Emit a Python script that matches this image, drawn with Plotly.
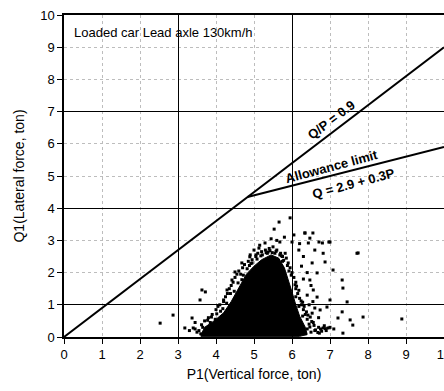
import plotly.graph_objects as go

# ---- data ----
x_ticks = [0, 1, 2, 3, 4, 5, 6, 7, 8, 9, 10]
y_ticks = [0, 1, 2, 3, 4, 5, 6, 7, 8, 9, 10]
major_x = [3, 6]
major_y = [1, 4, 7]

qp_line_p = [0, 10]
qp_line_q = [0, 9]

limit_p = [4.83, 10]
limit_q = [2.9 + 0.3 * 4.83, 2.9 + 0.3 * 10]

# dense core of the measured cloud (outline)
core_p = [3.60, 3.70, 3.95, 4.20, 4.40, 4.60, 4.80, 5.00, 5.20, 5.45, 5.65, 5.80, 5.90, 6.00, 6.10, 6.20, 6.35, 6.40, 6.20, 3.60]
core_q = [0.03, 0.30, 0.50, 0.75, 1.10, 1.55, 1.95, 2.20, 2.40, 2.55, 2.45, 2.15, 1.80, 1.40, 1.00, 0.65, 0.30, 0.08, 0.02, 0.02]

# scattered measured points around the core
pts_p = [6.34, 6.55, 7.00, 6.82, 6.87, 7.08, 7.32, 7.34, 7.74, 7.00, 7.45, 7.32, 7.21, 7.53, 7.60, 7.34,
         7.87, 8.89, 6.95, 6.82, 6.75, 6.47, 6.74, 6.70, 6.53, 6.56, 6.66, 6.53, 6.60, 6.43, 6.80, 6.47,
         6.66, 6.92,
         2.53, 2.87, 3.18, 3.37, 3.45, 3.58, 3.63, 3.72, 3.45, 3.40,
         5.95, 5.66, 5.53, 5.29, 5.68, 6.00, 6.05, 6.34, 6.47, 6.71, 6.97, 7.71, 4.89, 4.68, 4.50, 4.42,
         4.29, 4.20, 5.13, 5.37, 5.82, 6.18,
         3.60, 3.55, 3.65, 3.70, 3.80, 3.90, 3.85, 4.00, 4.05, 4.10, 4.20, 4.25, 4.30, 4.35, 4.40, 4.45,
         4.50, 4.55, 4.60, 4.70, 4.75, 4.85, 4.95, 5.05, 5.10, 5.20, 5.30, 5.40, 5.50, 5.60, 5.70, 5.75,
         5.85, 5.90, 5.95, 6.00, 6.05, 6.10, 6.10, 6.15, 6.20, 6.25, 6.30, 6.35, 6.40, 6.45, 6.40, 6.50,
         6.35, 6.60, 6.70, 6.85, 6.90, 7.00, 7.10, 3.95, 4.15, 3.75, 3.50, 3.30,
         5.60, 5.80, 5.45, 6.20, 6.30, 6.25, 6.40, 6.30, 6.50, 6.40, 6.55, 6.60, 6.45, 4.90, 5.00, 5.15,
         4.65, 4.95, 5.35, 5.75, 6.10, 4.38, 4.12, 3.98, 6.28, 6.18, 5.55, 5.05,
         3.62, 3.78, 3.88, 4.02, 4.18, 4.28, 4.48, 4.58, 4.72, 4.82, 4.92, 5.08, 5.22, 5.32, 5.42, 5.58,
         5.68, 5.78, 5.88, 5.98, 6.08, 6.18, 6.24, 6.32, 6.38, 6.48, 6.52, 6.58, 6.62, 6.68, 6.78, 6.88,
         3.68, 3.82, 4.08, 4.32, 4.52, 4.68, 4.88, 5.18, 5.48, 5.72, 5.92, 6.12, 6.28, 6.42, 6.56, 6.72]
pts_q = [3.23, 3.23, 2.95, 2.60, 2.33, 2.08, 1.77, 1.52, 2.61, 1.15, 1.09, 0.78, 0.59, 0.53, 0.37, 0.12,
         0.62, 0.56, 0.28, 0.28, 0.25, 0.31, 0.84, 0.60, 0.74, 1.46, 1.99, 2.30, 2.70, 2.92, 2.92, 1.77,
         1.24, 0.93,
         0.43, 0.68, 0.28, 0.59, 0.45, 1.15, 1.46, 1.40, 0.25, 0.28,
         3.70, 3.57, 3.35, 2.92, 2.95, 2.95, 3.17, 3.23, 3.07, 2.95, 2.95, 2.60, 2.49, 2.30, 2.02, 1.77,
         1.46, 1.15, 2.76, 2.64, 2.60, 2.70,
         0.10, 0.20, 0.30, 0.50, 0.60, 0.70, 0.45, 0.85, 0.95, 1.00, 1.10, 1.25, 1.35, 1.50, 1.60, 1.70,
         1.85, 1.95, 2.05, 2.15, 2.25, 2.35, 2.40, 2.50, 2.60, 2.65, 2.70, 2.75, 2.80, 2.70, 2.60, 2.50,
         2.45, 2.30, 2.15, 2.00, 1.85, 1.70, 1.50, 1.35, 1.20, 1.00, 0.85, 0.70, 0.55, 0.40, 0.25, 0.15,
         0.10, 0.20, 0.30, 0.35, 0.20, 0.30, 0.25, 0.30, 0.40, 0.20, 0.15, 0.20,
         3.00, 3.10, 3.05, 2.90, 2.50, 2.20, 2.00, 1.80, 1.60, 1.30, 1.10, 0.90, 1.00, 2.55, 2.70, 2.85,
         1.95, 2.30, 2.60, 2.35, 1.25, 1.35, 0.80, 0.55, 0.65, 0.95, 2.60, 2.55,
         0.38, 0.52, 0.62, 0.72, 0.88, 1.05, 1.42, 1.68, 1.92, 2.12, 2.28, 2.42, 2.55, 2.62, 2.68, 2.66,
         2.55, 2.38, 2.22, 1.92, 1.62, 1.45, 1.12, 0.95, 0.78, 0.62, 0.48, 0.36, 0.22, 0.14, 0.18, 0.26,
         0.15, 0.25, 0.42, 0.82, 1.22, 1.78, 2.22, 2.52, 2.62, 2.52, 2.05, 1.58, 1.08, 0.68, 0.45, 0.12]

font_family = "Liberation Sans, Arial, sans-serif"

fig = go.Figure()

fig.add_trace(go.Scatter(x=core_p, y=core_q, mode="lines", fill="toself",
                         fillcolor="black", line=dict(color="black", width=1),
                         hoverinfo="skip", showlegend=False))
fig.add_trace(go.Scatter(x=pts_p, y=pts_q, mode="markers",
                         marker=dict(color="black", size=3, symbol="square"),
                         showlegend=False))
fig.add_trace(go.Scatter(x=qp_line_p, y=qp_line_q, mode="lines",
                         line=dict(color="black", width=2), showlegend=False))
fig.add_trace(go.Scatter(x=limit_p, y=limit_q, mode="lines",
                         line=dict(color="black", width=2), showlegend=False))
fig.add_trace(go.Scatter(x=[0], y=[0], xaxis="x2", yaxis="y2", mode="markers",
                         marker=dict(opacity=0), hoverinfo="skip", showlegend=False))

fig.update_layout(
    width=444, height=391,
    margin=dict(l=64, r=0, t=15, b=54),
    paper_bgcolor="white", plot_bgcolor="white",
    font=dict(family=font_family, size=12, color="black"),
    xaxis=dict(range=[0, 10], tickvals=x_ticks, ticktext=[str(v) for v in x_ticks],
               showgrid=True, gridcolor="#bdbdbd", griddash="dot", gridwidth=1,
               showline=True, linecolor="black", linewidth=1.5, mirror=True,
               ticks="outside", ticklen=5, tickcolor="black", zeroline=False,
               tickfont=dict(size=13, color="black"), ticklabeloverflow="allow",
               title=dict(text="P1(Vertical force, ton)", font=dict(size=14), standoff=8),
               automargin=False),
    yaxis=dict(range=[0, 10], tickvals=y_ticks, ticktext=[str(v) for v in y_ticks],
               showgrid=True, gridcolor="#bdbdbd", griddash="dot", gridwidth=1,
               showline=True, linecolor="black", linewidth=1.5, mirror=True,
               ticks="outside", ticklen=5, tickcolor="black", zeroline=False,
               tickfont=dict(size=13, color="black"),
               title=dict(text="Q1(Lateral force, ton)", font=dict(size=14), standoff=12),
               automargin=False),
    xaxis2=dict(range=[0, 10], overlaying="x", tickvals=major_x, showticklabels=False,
                showgrid=True, gridcolor="black", gridwidth=1.2, zeroline=False,
                showline=False, ticks=""),
    yaxis2=dict(range=[0, 10], overlaying="y", tickvals=major_y, showticklabels=False,
                showgrid=True, gridcolor="black", gridwidth=1.2, zeroline=False,
                showline=False, ticks=""),
)

fig.add_annotation(x=0.2, y=9.47, text="Loaded car Lead axle 130km/h", showarrow=False,
                   xanchor="left", yanchor="middle", font=dict(size=13, color="black"))
fig.add_annotation(x=7.05, y=6.74, text="<b>Q/P = 0.9</b>", showarrow=False,
                   textangle=-37, font=dict(size=13, color="black"))
fig.add_annotation(x=7.05, y=5.30, text="<b>Allowance limit</b>", showarrow=False,
                   textangle=-15, font=dict(size=13, color="black"))
fig.add_annotation(x=7.62, y=4.78, text="<b>Q = 2.9 + 0.3P</b>", showarrow=False,
                   textangle=-15, font=dict(size=13, color="black"))

fig.write_html("out.html", config={"displayModeBar": False},
               post_script="document.body.style.margin='0';document.body.style.overflow='hidden';")
